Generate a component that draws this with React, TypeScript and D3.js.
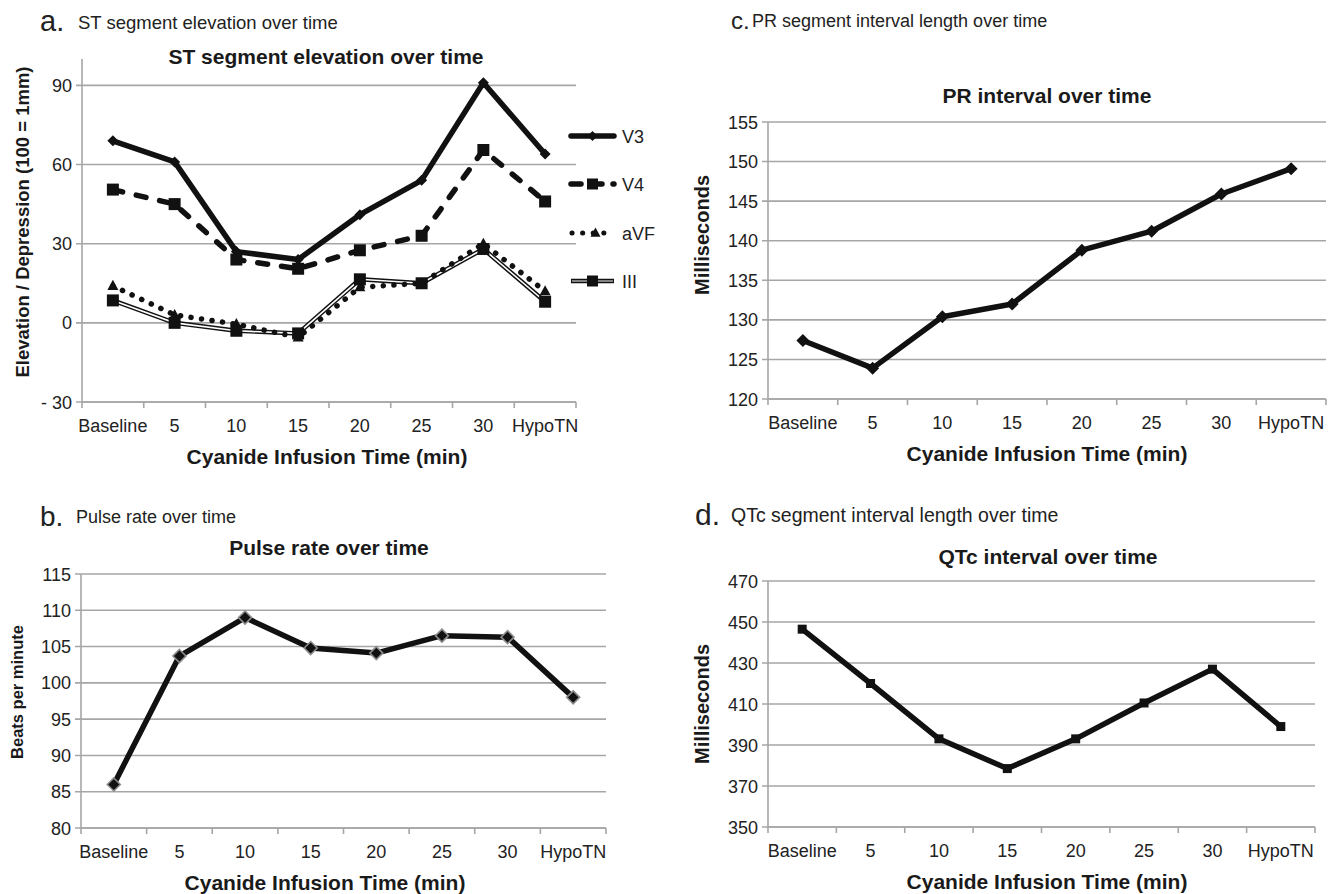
import { useEffect, useRef } from "react";
import * as d3 from "d3";

const categories = ["Baseline", "5", "10", "15", "20", "25", "30", "HypoTN"];

// ST segment elevation (100 = 1mm)
const stV3 = [69, 61, 27, 24, 41, 54, 91, 64];
const stV4 = [50.5, 45, 24, 20.5, 27.5, 33, 65.5, 46];
const stAVF = [14, 3, -0.5, -5.5, 13.5, 15, 30, 12];
const stIII = [8.5, 0, -3, -4, 16.5, 15, 28, 8];

const pulseRate = [86, 103.7, 109, 104.8, 104.1, 106.5, 106.3, 98];
const prInterval = [127.4, 123.9, 130.4, 132, 138.8, 141.2, 145.9, 149.1];
const qtcInterval = [446.5, 420, 393, 378.5, 393, 410.5, 427, 399];

const stTicks = [-30, 0, 30, 60, 90];
const pulseTicks = [80, 85, 90, 95, 100, 105, 110, 115];
const prTicks = [120, 125, 130, 135, 140, 145, 150, 155];
const qtcTicks = [350, 370, 390, 410, 430, 450, 470];

const FONT = "'Liberation Sans', Arial, sans-serif";
const GRID = "#a6a6a6";
const INK = "#111";

// excel-like markers
const diamondPath = (r) => `M0,${-r}L${r},0L0,${r}L${-r},0Z`;
const squarePath = (r) => `M${-r},${-r}H${r}V${r}H${-r}Z`;
const trianglePath = (r) => `M0,${-r * 1.1}L${r},${r * 0.75}L${-r},${r * 0.75}Z`;

const App = () => {
  const svgRef = useRef(null);

  useEffect(() => {
    const svg = d3.select(svgRef.current);
    svg.selectAll("*").remove();

    const panels = [
      {
        letter: "a.", lfs: 29, lx: 40, ly: 22,
        sub: "ST segment elevation over time", sx: 78, sfs: 18.5,
        title: "ST segment elevation over time", ttx: 326, ty: 57,
        ytitle: "Elevation / Depression (100 = 1mm)", yfs: 18.5, ytx: 22, yty: 222,
        xtitle: "Cyanide Infusion Time (min)", xtx: 327,
        left: 82, right: 576, top: 59, bottom: 402,
        domain: [-30, 100], ticks: stTicks,
      },
      {
        letter: "b.", lfs: 28, lx: 40, ly: 517,
        sub: "Pulse rate over time", sx: 76, sfs: 18,
        title: "Pulse rate over time", ttx: 329, ty: 548,
        ytitle: "Beats per minute", yfs: 16.5, ytx: 17, yty: 692,
        xtitle: "Cyanide Infusion Time (min)", xtx: 325,
        left: 81, right: 606, top: 574, bottom: 828,
        domain: [80, 115], ticks: pulseTicks,
      },
      {
        letter: "c.", lfs: 24, lx: 731, ly: 21,
        sub: "PR segment interval length over time", sx: 752, sfs: 18,
        title: "PR interval over time", ttx: 1047, ty: 96,
        ytitle: "Milliseconds", yfs: 20, ytx: 702, yty: 235,
        xtitle: "Cyanide Infusion  Time (min)", xtx: 1047,
        left: 768, right: 1326, top: 122, bottom: 399,
        domain: [120, 155], ticks: prTicks,
      },
      {
        letter: "d.", lfs: 30, lx: 695, ly: 515,
        sub: "QTc segment interval length over time", sx: 731, sfs: 19.5,
        title: "QTc interval over time", ttx: 1048, ty: 557,
        ytitle: "Milliseconds", yfs: 20, ytx: 702, yty: 704,
        xtitle: "Cyanide Infusion Time (min)", xtx: 1047,
        left: 768, right: 1315, top: 581, bottom: 827,
        domain: [350, 470], ticks: qtcTicks,
      },
    ];

    const scales = panels.map((p) => {
      const g = svg.append("g");
      const x = d3.scaleBand().domain(categories).range([p.left, p.right]);
      const y = d3.scaleLinear().domain(p.domain).range([p.bottom, p.top]);

      // panel letter + caption
      g.append("text").attr("x", p.lx).attr("y", p.ly + p.lfs * 0.32)
        .attr("font-size", p.lfs).attr("font-family", FONT).attr("fill", "#222").text(p.letter);
      g.append("text").attr("x", p.sx).attr("y", p.ly + p.sfs * 0.36)
        .attr("font-size", p.sfs).attr("font-family", FONT).attr("fill", "#222").text(p.sub);

      // chart title
      g.append("text").attr("x", p.ttx).attr("y", p.ty + 7)
        .attr("text-anchor", "middle")
        .attr("font-size", 21).attr("font-weight", "bold").attr("font-family", FONT)
        .attr("fill", "#1a1a1a").text(p.title);

      // gridlines
      g.append("g").selectAll("line").data(p.ticks).join("line")
        .attr("x1", p.left - 6).attr("x2", p.right)
        .attr("y1", (d) => y(d)).attr("y2", (d) => y(d))
        .attr("stroke", GRID).attr("stroke-width", 1.6);

      // y axis line
      g.append("line").attr("x1", p.left).attr("x2", p.left)
        .attr("y1", y(p.domain[1])).attr("y2", p.bottom)
        .attr("stroke", GRID).attr("stroke-width", 1.6);

      // x axis line + ticks at band boundaries
      g.append("line").attr("x1", p.left).attr("x2", p.right)
        .attr("y1", p.bottom).attr("y2", p.bottom)
        .attr("stroke", GRID).attr("stroke-width", 1.6);
      const bounds = categories.map((c) => x(c)).concat([p.right]);
      g.append("g").selectAll("line").data(bounds).join("line")
        .attr("x1", (d) => d).attr("x2", (d) => d)
        .attr("y1", p.bottom).attr("y2", p.bottom + 6)
        .attr("stroke", GRID).attr("stroke-width", 1.6);

      // tick labels
      g.append("g").selectAll("text").data(p.ticks).join("text")
        .attr("x", p.left - 10).attr("y", (d) => y(d) + 6.5).attr("text-anchor", "end")
        .attr("font-size", 18).attr("font-family", FONT).attr("fill", "#222")
        .text((d) => (d < 0 ? "- " + Math.abs(d) : String(d)));
      g.append("g").selectAll("text").data(categories).join("text")
        .attr("x", (d) => x(d) + x.bandwidth() / 2).attr("y", p.bottom + 30)
        .attr("text-anchor", "middle")
        .attr("font-size", 18).attr("font-family", FONT).attr("fill", "#222").text((d) => d);

      // axis titles
      g.append("text").attr("x", p.xtx).attr("y", p.bottom + 62).attr("text-anchor", "middle")
        .attr("font-size", 21).attr("font-weight", "bold").attr("font-family", FONT)
        .attr("fill", "#1a1a1a").text(p.xtitle);
      g.append("text").attr("transform", `translate(${p.ytx + p.yfs * 0.36},${p.yty}) rotate(-90)`)
        .attr("text-anchor", "middle")
        .attr("font-size", p.yfs).attr("font-weight", "bold").attr("font-family", FONT)
        .attr("fill", "#1a1a1a").text(p.ytitle);

      return { g, x, y };
    });

    const cx = (s, i) => s.x(categories[i]) + s.x.bandwidth() / 2;
    const lineOf = (s, vals) =>
      d3.line().x((d, i) => cx(s, i)).y((d) => s.y(d))(vals);

    const drawLine = (s, vals, width, dash) => {
      const path = s.g.append("path").attr("d", lineOf(s, vals)).attr("fill", "none")
        .attr("stroke", INK).attr("stroke-width", width).attr("stroke-linejoin", "round");
      if (dash) path.attr("stroke-dasharray", dash).attr("stroke-linecap", "round");
      return path;
    };

    const drawMarkers = (s, vals, pathD, fill, stroke, sw) => {
      s.g.append("g").selectAll("path").data(vals).join("path")
        .attr("transform", (d, i) => `translate(${cx(s, i)},${s.y(d)})`)
        .attr("d", pathD)
        .attr("fill", fill).attr("stroke", stroke).attr("stroke-width", sw);
    };

    // ---- panel a ----
    const sa = scales[0];
    // III: double line (white core)
    drawLine(sa, stIII, 4.5);
    sa.g.append("path").attr("d", lineOf(sa, stIII)).attr("fill", "none")
      .attr("stroke", "#fff").attr("stroke-width", 1.6);
    drawLine(sa, stAVF, 5.5, "0.1,10.5");
    drawLine(sa, stV4, 5.5, "10,14");
    drawLine(sa, stV3, 5.5);
    drawMarkers(sa, stIII, squarePath(6), INK, "none", 0);
    drawMarkers(sa, stAVF, trianglePath(5.5), INK, "none", 0);
    drawMarkers(sa, stV4, squarePath(6), INK, "none", 0);
    drawMarkers(sa, stV3, diamondPath(5.5), INK, "none", 0);

    // legend
    const legend = [
      { name: "V3", y: 136 },
      { name: "V4", y: 184 },
      { name: "aVF", y: 233 },
      { name: "III", y: 281 },
    ];
    const lg = sa.g.append("g");
    legend.forEach((l) => {
      const x1 = 571, x2 = 614, xm = (x1 + x2) / 2;
      const seg = () => lg.append("line").attr("x1", x1).attr("x2", x2)
        .attr("y1", l.y).attr("y2", l.y).attr("stroke", INK);
      if (l.name === "V3") {
        seg().attr("stroke-width", 5.5).attr("stroke-linecap", "round");
        lg.append("path").attr("transform", `translate(${xm},${l.y})`)
          .attr("d", diamondPath(5)).attr("fill", INK);
      } else if (l.name === "V4") {
        seg().attr("stroke-width", 5.5).attr("stroke-linecap", "round")
          .attr("stroke-dasharray", "10,11");
        lg.append("path").attr("transform", `translate(${xm},${l.y})`)
          .attr("d", squarePath(5.5)).attr("fill", INK);
      } else if (l.name === "aVF") {
        seg().attr("x1", x1 + 1).attr("stroke-width", 5).attr("stroke-linecap", "round")
          .attr("stroke-dasharray", "0.1,10.5");
        lg.append("path").attr("transform", `translate(${xm + 3},${l.y})`)
          .attr("d", trianglePath(5)).attr("fill", INK);
      } else {
        seg().attr("stroke-width", 4.5);
        lg.append("line").attr("x1", x1 + 1).attr("x2", x2 - 1).attr("y1", l.y).attr("y2", l.y)
          .attr("stroke", "#aaa").attr("stroke-width", 1.6);
        lg.append("path").attr("transform", `translate(${xm},${l.y})`)
          .attr("d", squarePath(5.5)).attr("fill", INK);
      }
      lg.append("text").attr("x", 622).attr("y", l.y + 6.5)
        .attr("font-size", 18).attr("font-family", FONT).attr("fill", "#222").text(l.name);
    });

    // ---- panel b ----
    const sb = scales[1];
    drawLine(sb, pulseRate, 5.5);
    drawMarkers(sb, pulseRate, diamondPath(6.5), INK, "#8c8c8c", 1.6);

    // ---- panel c ----
    const sc = scales[2];
    drawLine(sc, prInterval, 5.5);
    drawMarkers(sc, prInterval, diamondPath(6.5), INK, "none", 0);

    // ---- panel d ----
    const sd = scales[3];
    drawLine(sd, qtcInterval, 5.5);
    drawMarkers(sd, qtcInterval, squarePath(4.5), INK, "none", 0);
  }, []);

  return (
    <svg
      ref={svgRef}
      width={1342}
      height={894}
      style={{ position: "absolute", left: 0, top: 0, background: "#fff" }}
    />
  );
};

export default App;
